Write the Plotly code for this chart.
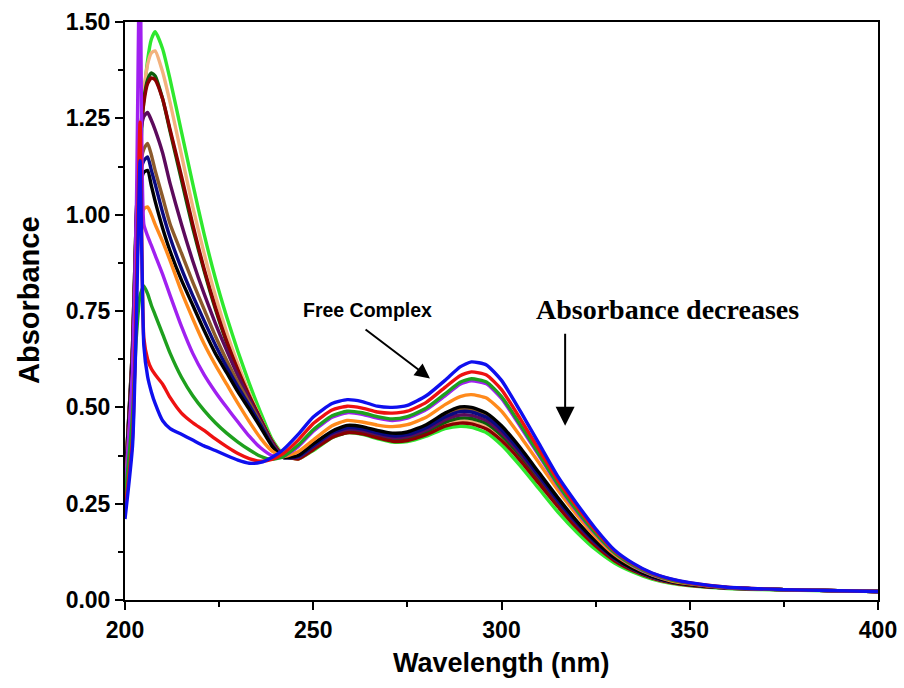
import plotly.graph_objects as go

# Wavelength grid (nm)
wavelength = [200, 202, 203, 204, 205, 206, 207, 208, 210, 212, 215, 218, 221, 224, 227, 230,
              233, 236, 239, 242, 246, 250, 255, 259, 263, 267, 271, 275, 280, 285, 289, 292,
              296, 300, 305, 310, 315, 320, 325, 330, 335, 340, 345, 350, 360, 375, 400]

# Absorbance spectra (titration series)
abs_free = [0.21, 0.40, 0.72, 1.14, 0.66, 0.58, 0.54, 0.51, 0.465, 0.445, 0.43, 0.415, 0.40, 0.388, 0.375, 0.363,
            0.355, 0.357, 0.37, 0.39, 0.43, 0.475, 0.51, 0.52, 0.515, 0.503, 0.50, 0.505, 0.53, 0.57, 0.605, 0.618,
            0.61, 0.57, 0.49, 0.405, 0.32, 0.25, 0.185, 0.13, 0.095, 0.07, 0.055, 0.045, 0.033, 0.027, 0.022]
abs_red = [0.23, 0.42, 0.78, 1.24, 0.68, 0.625, 0.60, 0.585, 0.56, 0.525, 0.485, 0.46, 0.44, 0.418, 0.398, 0.38,
           0.367, 0.36, 0.365, 0.38, 0.415, 0.458, 0.493, 0.503, 0.498, 0.488, 0.485, 0.49, 0.513, 0.552, 0.582, 0.592,
           0.584, 0.546, 0.47, 0.39, 0.31, 0.242, 0.18, 0.127, 0.093, 0.069, 0.054, 0.044, 0.033, 0.027, 0.022]
abs_green = [0.26, 0.48, 0.68, 0.79, 0.815, 0.795, 0.765, 0.74, 0.69, 0.64, 0.578, 0.53, 0.492, 0.46, 0.433, 0.41,
             0.39, 0.373, 0.365, 0.372, 0.402, 0.442, 0.478, 0.49, 0.486, 0.476, 0.47, 0.476, 0.498, 0.535, 0.565, 0.574,
             0.566, 0.528, 0.455, 0.378, 0.30, 0.233, 0.173, 0.123, 0.09, 0.067, 0.052, 0.043, 0.032, 0.027, 0.022]
abs_violet = [0.27, 0.60, 1.00, 1.75, 0.975, 0.945, 0.92, 0.895, 0.845, 0.79, 0.71, 0.64, 0.585, 0.54, 0.50, 0.462,
              0.425, 0.395, 0.375, 0.372, 0.398, 0.438, 0.474, 0.486, 0.482, 0.472, 0.466, 0.472, 0.494, 0.53, 0.56, 0.569,
              0.561, 0.523, 0.45, 0.374, 0.297, 0.23, 0.171, 0.122, 0.089, 0.066, 0.052, 0.043, 0.032, 0.027, 0.022]
abs_orange = [0.28, 0.58, 0.85, 0.97, 1.015, 1.02, 1.00, 0.975, 0.93, 0.88, 0.80, 0.73, 0.665, 0.61, 0.56, 0.51,
              0.463, 0.42, 0.387, 0.372, 0.385, 0.415, 0.452, 0.466, 0.462, 0.454, 0.45, 0.455, 0.474, 0.507, 0.528, 0.533,
              0.524, 0.49, 0.425, 0.355, 0.285, 0.221, 0.164, 0.118, 0.087, 0.065, 0.05, 0.042, 0.032, 0.027, 0.022]
abs_black = [0.28, 0.62, 0.92, 1.07, 1.11, 1.115, 1.075, 1.035, 0.965, 0.905, 0.83, 0.765, 0.70, 0.64, 0.59, 0.54,
             0.495, 0.448, 0.40, 0.37, 0.375, 0.405, 0.438, 0.453, 0.45, 0.44, 0.433, 0.436, 0.455, 0.485, 0.501, 0.50,
             0.485, 0.452, 0.395, 0.33, 0.265, 0.205, 0.153, 0.11, 0.081, 0.061, 0.048, 0.04, 0.032, 0.027, 0.022]
abs_navy = [0.29, 0.62, 0.93, 1.10, 1.14, 1.15, 1.115, 1.08, 1.005, 0.94, 0.86, 0.79, 0.725, 0.662, 0.605, 0.553,
            0.505, 0.455, 0.403, 0.37, 0.372, 0.40, 0.434, 0.447, 0.444, 0.434, 0.426, 0.429, 0.447, 0.475, 0.489, 0.488,
            0.474, 0.442, 0.386, 0.322, 0.258, 0.20, 0.149, 0.108, 0.08, 0.06, 0.047, 0.04, 0.032, 0.027, 0.022]
abs_brown = [0.30, 0.64, 0.95, 1.12, 1.17, 1.185, 1.155, 1.115, 1.045, 0.975, 0.90, 0.825, 0.755, 0.685, 0.622, 0.565,
             0.513, 0.46, 0.405, 0.37, 0.372, 0.402, 0.436, 0.45, 0.447, 0.437, 0.429, 0.432, 0.45, 0.479, 0.494, 0.493,
             0.479, 0.446, 0.39, 0.326, 0.261, 0.202, 0.151, 0.109, 0.08, 0.06, 0.047, 0.04, 0.032, 0.027, 0.022]
abs_plum = [0.30, 0.66, 1.00, 1.20, 1.255, 1.265, 1.245, 1.22, 1.16, 1.08, 0.975, 0.88, 0.795, 0.718, 0.648, 0.582,
            0.522, 0.465, 0.41, 0.372, 0.37, 0.398, 0.43, 0.443, 0.44, 0.43, 0.421, 0.424, 0.441, 0.468, 0.48, 0.479,
            0.466, 0.434, 0.38, 0.318, 0.255, 0.197, 0.147, 0.107, 0.079, 0.059, 0.047, 0.04, 0.031, 0.027, 0.022]
abs_forest = [0.30, 0.66, 1.00, 1.20, 1.30, 1.35, 1.368, 1.36, 1.30, 1.215, 1.09, 0.965, 0.855, 0.755, 0.668, 0.593,
              0.527, 0.468, 0.412, 0.374, 0.368, 0.395, 0.427, 0.44, 0.437, 0.427, 0.418, 0.42, 0.436, 0.461, 0.472, 0.471,
              0.458, 0.427, 0.374, 0.312, 0.25, 0.193, 0.144, 0.105, 0.078, 0.058, 0.046, 0.039, 0.031, 0.027, 0.022]
abs_maroon = [0.30, 0.64, 0.98, 1.18, 1.29, 1.34, 1.355, 1.35, 1.30, 1.22, 1.10, 0.975, 0.86, 0.76, 0.672, 0.597,
              0.53, 0.47, 0.413, 0.375, 0.366, 0.39, 0.422, 0.434, 0.431, 0.421, 0.412, 0.414, 0.429, 0.451, 0.459, 0.457,
              0.444, 0.414, 0.362, 0.302, 0.242, 0.187, 0.14, 0.102, 0.076, 0.057, 0.045, 0.038, 0.031, 0.027, 0.022]
abs_peach = [0.31, 0.66, 1.00, 1.20, 1.32, 1.39, 1.42, 1.425, 1.37, 1.29, 1.155, 1.02, 0.90, 0.79, 0.695, 0.612,
             0.537, 0.472, 0.414, 0.376, 0.366, 0.392, 0.425, 0.437, 0.434, 0.424, 0.415, 0.417, 0.432, 0.456, 0.465, 0.463,
             0.45, 0.42, 0.368, 0.307, 0.246, 0.19, 0.142, 0.103, 0.077, 0.057, 0.045, 0.038, 0.031, 0.027, 0.022]
abs_lime = [0.31, 0.64, 0.98, 1.15, 1.30, 1.40, 1.455, 1.475, 1.43, 1.35, 1.215, 1.08, 0.95, 0.835, 0.735, 0.645,
            0.562, 0.487, 0.418, 0.378, 0.366, 0.388, 0.421, 0.434, 0.43, 0.419, 0.41, 0.411, 0.425, 0.445, 0.451, 0.448,
            0.434, 0.402, 0.348, 0.288, 0.228, 0.176, 0.131, 0.096, 0.072, 0.054, 0.043, 0.037, 0.03, 0.026, 0.022]

# Drawing order: last trace ends up on top
series = [
    (abs_lime, "#2ee82e"),
    (abs_peach, "#f2b27e"),
    (abs_forest, "#0b5e0b"),
    (abs_maroon, "#8b0000"),
    (abs_plum, "#5c0a5c"),
    (abs_brown, "#8c5a2b"),
    (abs_navy, "#0a0a80"),
    (abs_black, "#000000"),
    (abs_orange, "#ff8a1c"),
    (abs_violet, "#a020f0"),
    (abs_green, "#1ea01e"),
    (abs_red, "#ee1111"),
    (abs_free, "#0f0fee"),
]

fig = go.Figure()
for values, color in series:
    fig.add_trace(go.Scatter(
        x=wavelength, y=values, mode="lines",
        line=dict(color=color, width=3.4, shape="spline", smoothing=0.55),
        showlegend=False, hoverinfo="skip",
    ))

SANS = "Liberation Sans, Arial, sans-serif"
tick_font = dict(family=SANS, size=23, color="black", weight="bold")

fig.update_xaxes(
    range=[200, 400], dtick=50, tick0=200, automargin=False,
    showline=True, linecolor="black", linewidth=2, mirror=True,
    ticks="outside", ticklen=8, tickwidth=2, tickcolor="black",
    minor=dict(dtick=25, ticks="outside", ticklen=5, tickwidth=2, tickcolor="black"),
    showgrid=False, zeroline=False, tickfont=tick_font,
)
fig.update_yaxes(
    range=[0, 1.5], dtick=0.25, tick0=0, tickformat=".2f", automargin=False,
    showline=True, linecolor="black", linewidth=2, mirror=True,
    ticks="outside", ticklen=8, tickwidth=2, tickcolor="black",
    minor=dict(dtick=0.125, ticks="outside", ticklen=5, tickwidth=2, tickcolor="black"),
    showgrid=False, zeroline=False, tickfont=tick_font,
)

# Axis titles
fig.add_annotation(
    x=0.5, y=-0.109, xref="paper", yref="paper", xanchor="center", yanchor="middle", showarrow=False,
    text="<b>Wavelength (nm)</b>", font=dict(family=SANS, size=27, color="black"),
)
fig.add_annotation(
    x=-0.1275, y=0.519, xref="paper", yref="paper", xanchor="center", yanchor="middle",
    showarrow=False, textangle=-90,
    text="<b>Absorbance</b>", font=dict(family=SANS, size=29, color="black"),
)

# Callouts
fig.add_annotation(
    x=281, y=0.575, ax=263.5, ay=0.705, xref="x", yref="y", axref="x", ayref="y",
    showarrow=True, arrowhead=2, arrowsize=1.5, arrowwidth=2, arrowcolor="black", text="",
)
fig.add_annotation(
    x=264.5, y=0.752, xref="x", yref="y", showarrow=False,
    text="<b>Free Complex</b>", font=dict(family=SANS, size=19.5, color="black"),
)
fig.add_annotation(
    x=344.2, y=0.753, xref="x", yref="y", showarrow=False,
    text="<b>Absorbance decreases</b>", font=dict(family="Liberation Serif, Times New Roman, serif", size=28, color="black"),
)
fig.add_annotation(
    x=316.9, y=0.452, ax=316.9, ay=0.695, xref="x", yref="y", axref="x", ayref="y",
    showarrow=True, arrowhead=2, arrowsize=1.9, arrowwidth=2, arrowcolor="black", text="",
)

fig.update_layout(
    width=904, height=688,
    margin=dict(l=125, r=26, t=22, b=88),
    paper_bgcolor="white", plot_bgcolor="white",
)

fig.write_html("out.html")
